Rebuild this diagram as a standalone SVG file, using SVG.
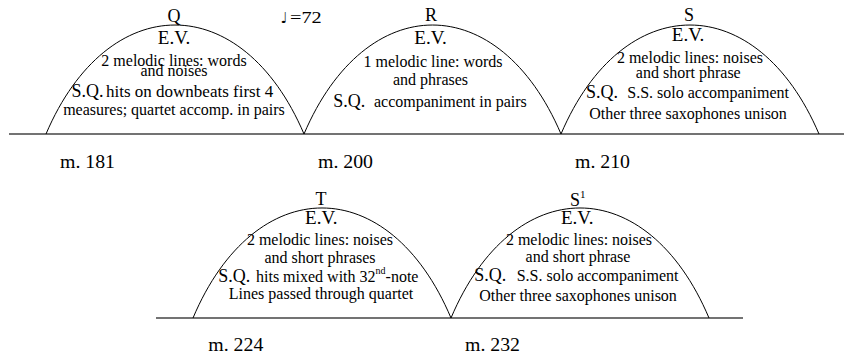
<svg xmlns="http://www.w3.org/2000/svg" width="844" height="363" viewBox="0 0 844 363">
<style>
text{font-family:"Liberation Serif","Times New Roman","DejaVu Serif",serif;fill:#000;}
.c{text-anchor:middle;}
.b{font-size:16px;}
.lab{font-size:18px;}
.ev{font-size:19px;}
.sq{font-size:18px;}
.m{font-size:18.5px;}
.arch{fill:none;stroke:#000;stroke-width:1;}
.base{fill:none;stroke:#444;stroke-width:1.5;}
</style>
<rect width="844" height="363" fill="#fff"/>
<g id="connectors">
  <line class="base" x1="9" y1="134" x2="844" y2="134"/>
  <line class="base" x1="156" y1="318" x2="743" y2="318"/>
</g>
<g id="tempo">
  <text x="280.5" y="22.7" font-size="15" style="font-family:'DejaVu Sans',sans-serif">♩</text>
  <text x="290" y="22.7" font-size="17" textLength="31.7" lengthAdjust="spacingAndGlyphs">=72</text>
</g>
<g id="section-Q">
  <path class="arch" d="M46,134 C108,-11.3 242,-11.3 304,134"/>
  <text class="c lab" x="174" y="22">Q</text>
  <text class="c ev" x="174" y="44">E.V.</text>
  <text class="c b" x="174" y="66">2 melodic lines: words</text>
  <text class="c b" x="174" y="75.5">and noises</text>
  <text class="sq" x="71.5" y="97">S.Q.</text>
  <text x="106" y="97" font-size="17">hits on downbeats first 4</text>
  <text class="c b" x="174" y="115">measures; quartet accomp. in pairs</text>
  <text class="m" x="60" y="168" textLength="55" lengthAdjust="spacingAndGlyphs">m. 181</text>
</g>
<g id="section-R">
  <path class="arch" d="M304,134 C366,-11.3 499,-11.3 561,134"/>
  <text class="c lab" x="431" y="21">R</text>
  <text class="c ev" x="430.5" y="44">E.V.</text>
  <text class="c b" x="433" y="67">1 melodic line: words</text>
  <text class="c b" x="430.5" y="85">and phrases</text>
  <text class="sq" x="333.3" y="107.3">S.Q.</text>
  <text class="b" x="374" y="107.3">accompaniment in pairs</text>
  <text class="m" x="318" y="168" textLength="55" lengthAdjust="spacingAndGlyphs">m. 200</text>
</g>
<g id="section-S">
  <path class="arch" d="M561,134 C623,-11.3 757,-11.3 819,134"/>
  <text class="c lab" x="689" y="21">S</text>
  <text class="c ev" x="688" y="41">E.V.</text>
  <text class="c b" x="690" y="63">2 melodic lines: noises</text>
  <text class="c b" x="688.3" y="77.5">and short phrase</text>
  <text class="sq" x="586" y="97.5">S.Q.</text>
  <text class="b" x="627.3" y="97.5">S.S. solo accompaniment</text>
  <text class="c b" x="688" y="118.5">Other three saxophones unison</text>
  <text class="m" x="575" y="167.5" textLength="55" lengthAdjust="spacingAndGlyphs">m. 210</text>
</g>
<g id="section-T">
  <path class="arch" d="M193,318 C255,171.3 389,171.3 451,318"/>
  <text class="c lab" x="321" y="205">T</text>
  <text class="c ev" x="321.3" y="224">E.V.</text>
  <text class="c b" x="320" y="245">2 melodic lines: noises</text>
  <text class="c b" x="320" y="262.7">and short phrases</text>
  <text class="sq" x="218.3" y="281.7">S.Q.</text>
  <text class="b" x="256" y="281.7">hits mixed with 32<tspan font-size="10" dy="-8">nd</tspan><tspan dy="8">-note</tspan></text>
  <text class="c b" x="321" y="299">Lines passed through quartet</text>
  <text class="m" x="208.3" y="351" textLength="55" lengthAdjust="spacingAndGlyphs">m. 224</text>
</g>
<g id="section-S1">
  <path class="arch" d="M451,318 C513,171.3 647,171.3 709,318"/>
  <text class="lab" x="570" y="205.5">S<tspan font-size="11" dy="-8">1</tspan></text>
  <text class="c ev" x="577.2" y="224">E.V.</text>
  <text class="c b" x="579" y="245">2 melodic lines: noises</text>
  <text class="c b" x="578" y="261.7">and short phrase</text>
  <text class="sq" x="474.3" y="280.7">S.Q.</text>
  <text class="b" x="516.7" y="280.7">S.S. solo accompaniment</text>
  <text class="c b" x="578" y="300.7">Other three saxophones unison</text>
  <text class="m" x="465" y="351" textLength="55" lengthAdjust="spacingAndGlyphs">m. 232</text>
</g>
</svg>
